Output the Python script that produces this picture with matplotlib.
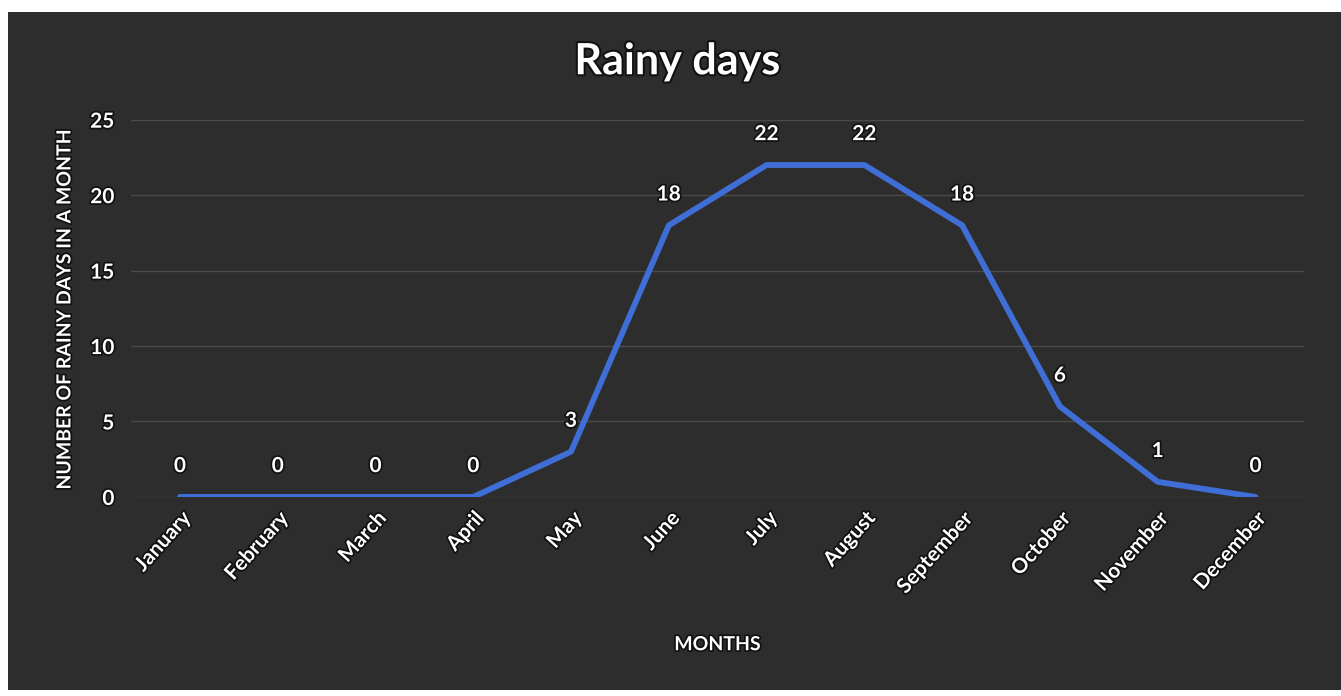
import matplotlib
matplotlib.use("Agg")
import matplotlib.pyplot as plt
import matplotlib.patheffects as pe
from matplotlib.patches import Rectangle

months = ["January", "February", "March", "April", "May", "June", "July",
          "August", "September", "October", "November", "December"]
rainy_days = [0, 0, 0, 0, 3, 18, 22, 22, 18, 6, 1, 0]
y_ticks = [0, 5, 10, 15, 20, 25]

plt.rcParams['font.family'] = ['Lato', 'DejaVu Sans']

fig = plt.figure(figsize=(13.41, 6.96), dpi=100)
fig.patch.set_facecolor("white")
# dark chart background (photo of a chart)
fig.add_artist(Rectangle((0.006, 0.008), 0.994, 0.975, transform=fig.transFigure,
                         facecolor="#2d2d2d", edgecolor="none", zorder=0))

ax = fig.add_axes([0.0977, 0.286, 0.875, 0.542])
ax.set_facecolor("none")

shadow = [pe.withStroke(linewidth=2.5, foreground="#111111")]

x = list(range(len(months)))
ax.plot(x, rainy_days, color="#3f6fd6", linewidth=4.2, solid_joinstyle="round",
        solid_capstyle="round", zorder=3)

for xi, v in zip(x, rainy_days):
    ax.annotate(str(v), (xi, v), xytext=(0, 15), textcoords="offset points",
                ha="center", va="bottom", color="white", fontsize=15,
                fontweight="bold", path_effects=shadow, zorder=4)

ax.set_xlim(-0.5, len(months) - 0.5)
ax.set_ylim(0, 25)
ax.set_yticks(y_ticks)
ax.set_xticks(x)
ax.set_xticklabels(months, rotation=48, ha="right", rotation_mode="anchor")
for lab in ax.get_xticklabels() + ax.get_yticklabels():
    lab.set_color("white")
    lab.set_fontsize(15)
    lab.set_fontweight("bold")
    lab.set_path_effects(shadow)

ax.tick_params(axis="both", length=0)
ax.tick_params(axis="y", pad=12)
ax.tick_params(axis="x", pad=8)
ax.grid(axis="y", color="#4a4a4a", linewidth=1.0)
ax.set_axisbelow(True)
for s in ax.spines.values():
    s.set_visible(False)

ax.set_xlabel("MONTHS", color="white", fontsize=14, fontweight="bold",
              labelpad=28, path_effects=shadow)
ax.set_ylabel("NUMBER OF RAINY DAYS IN A MONTH", color="white", fontsize=14,
              fontweight="bold", labelpad=12, path_effects=shadow)

fig.text(0.505, 0.912, "Rainy days", ha="center", va="center", color="white",
         fontsize=31, fontweight="bold",
         path_effects=[pe.withStroke(linewidth=3, foreground="#111111")])

fig.savefig("out.png", dpi=100, facecolor=fig.get_facecolor())
